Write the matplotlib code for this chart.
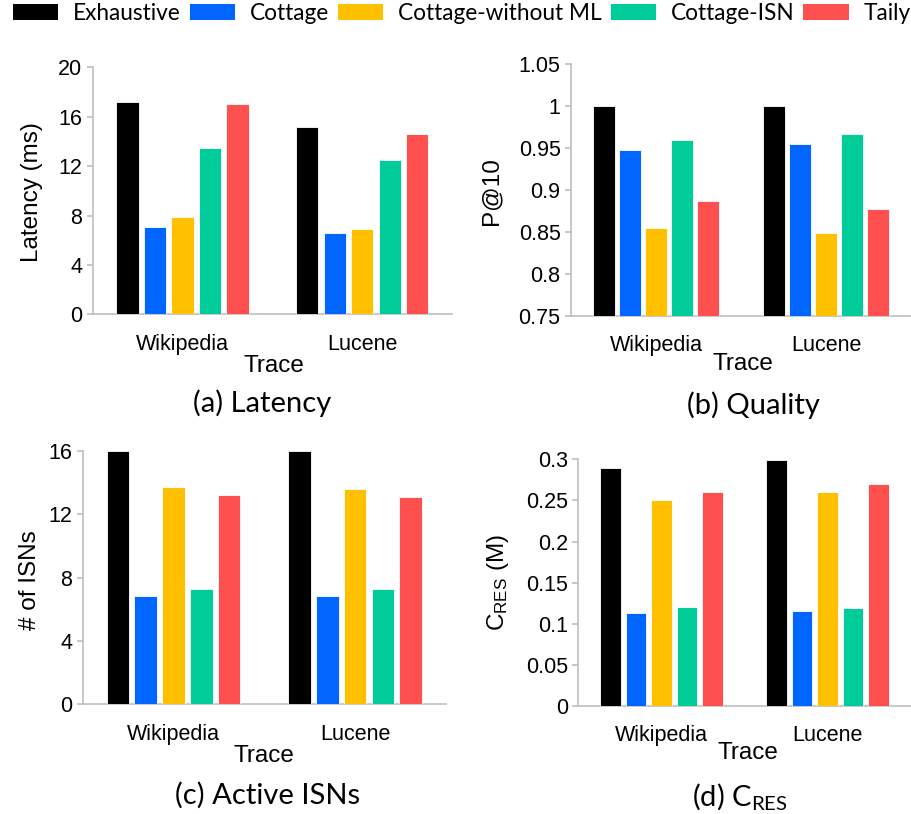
import numpy as np
import matplotlib
matplotlib.use("Agg")
import matplotlib.pyplot as plt
from matplotlib.patches import Patch

plt.rcParams['font.family'] = ['Liberation Sans', 'DejaVu Sans']

# data
traces = ['Wikipedia', 'Lucene']
methods = ['Exhaustive', 'Cottage', 'Cottage-without ML', 'Cottage-ISN', 'Taily']
colors = ['#000000', '#0066FF', '#FFC000', '#00CC99', '#FF5050']

latency = [[17.2, 15.2], [7.1, 6.6], [7.9, 6.9], [13.5, 12.5], [17.0, 14.6]]
quality = [[1.0, 1.0], [0.947, 0.955], [0.854, 0.848], [0.960, 0.967], [0.887, 0.877]]
active_isns = [[16.0, 16.0], [6.85, 6.85], [13.73, 13.56], [7.25, 7.25], [13.23, 13.06]]
c_res = [[0.289, 0.299], [0.1135, 0.115], [0.250, 0.260], [0.120, 0.119], [0.260, 0.270]]

lat_ticks = [0, 4, 8, 12, 16, 20]
lat_labels = ['0', '4', '8', '12', '16', '20']
q_ticks = [0.75, 0.8, 0.85, 0.9, 0.95, 1.0, 1.05]
q_labels = ['0.75', '0.8', '0.85', '0.9', '0.95', '1', '1.05']
isn_ticks = [0, 4, 8, 12, 16]
isn_labels = ['0', '4', '8', '12', '16']
cres_ticks = [0, 0.05, 0.1, 0.15, 0.2, 0.25, 0.3]
cres_labels = ['0', '0.05', '0.1', '0.15', '0.2', '0.25', '0.3']

W, H = 912, 814
fig = plt.figure(figsize=(W / 100, H / 100), dpi=100)


def px(x, y):
    return x / W, 1 - y / H


def panel(box, values, ticks, labels, ylabel, ylab_xy, xlab_xy, caption, cap_xy, bottom=0):
    l, r, t, b = box
    ax = fig.add_axes([l / W, 1 - b / H, (r - l) / W, (b - t) / H])
    x = np.arange(len(traces))
    stride = 0.153
    for j, vals in enumerate(values):
        ax.bar(x + (j - 2) * stride, np.array(vals) - bottom, bottom=bottom, width=0.124,
               color=colors[j], edgecolor='white', linewidth=0.6, zorder=3)
    ax.set_xlim(-0.5, len(traces) - 0.5)
    ax.set_ylim(ticks[0], ticks[-1])
    ax.set_yticks(ticks)
    ax.set_yticklabels(labels)
    ax.set_xticks(x)
    ax.set_xticklabels(traces)
    for s in ['top', 'right']:
        ax.spines[s].set_visible(False)
    for s in ['left', 'bottom']:
        ax.spines[s].set_color('#BFBFBF')
        ax.spines[s].set_linewidth(1.2)
    ax.tick_params(axis='y', length=4, width=1.2, color='#BFBFBF', pad=3.5, labelsize=15.5)
    ax.tick_params(axis='x', length=0, pad=14, labelsize=15.5)
    ax.set_ylabel(ylabel, fontsize=17.5, va='center')
    ax.yaxis.set_label_coords(*px(*ylab_xy), transform=fig.transFigure)
    ax.set_xlabel('Trace', fontsize=17.5, va='center')
    ax.xaxis.set_label_coords(*px(*xlab_xy), transform=fig.transFigure)
    fig.text(*px(*cap_xy), caption, ha='center', va='center', fontsize=21,
             family=['Lato', 'DejaVu Sans'])
    return ax


panel((92.7, 452, 67.3, 314.3), latency, lat_ticks, lat_labels, 'Latency (ms)',
      (31.7, 192), (273.7, 366), '(a) Latency', (261.7, 403))
panel((571, 911, 64, 315.7), quality, q_ticks, q_labels, 'P@10',
      (491.7, 191), (742.7, 364), '(b) Quality', (753, 405), bottom=0.75)
panel((82.7, 446, 450.7, 704.3), active_isns, isn_ticks, isn_labels, '# of ISNs',
      (30, 580), (264.4, 755.7), '(c) Active ISNs', (267.5, 795))
panel((578.3, 910.7, 459.3, 706), c_res, cres_ticks, cres_labels, r'C$\mathregular{_{RES}}$ (M)',
      (498, 583), (747.5, 753.3), r'(d) C$\mathregular{_{RES}}$', (740, 796.7))

handles = [Patch(facecolor=c, edgecolor='none') for c in colors]
fig.legend(handles, methods, loc='upper left', bbox_to_anchor=px(10.6, 1), ncol=5,
           frameon=False, handlelength=2.0, handleheight=0.7, handletextpad=0.65,
           columnspacing=0.4, borderaxespad=0, borderpad=0.1,
           prop={'family': ['Lato', 'DejaVu Sans'], 'size': 16.3})

fig.savefig('out.png', dpi=100)
